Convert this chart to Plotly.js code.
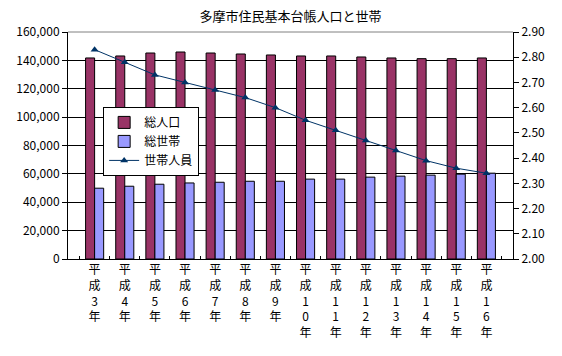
<!DOCTYPE html>
<html>
<head>
<meta charset="utf-8">
<script src="https://cdn.plot.ly/plotly-3.0.1.min.js"></script>
<style>body{margin:0;background:#fff}#chart{width:562px;height:356px}</style>
</head>
<body>
<div id="chart"></div>
<script>
const years = ["平成3年","平成4年","平成5年","平成6年","平成7年","平成8年","平成9年","平成10年","平成11年","平成12年","平成13年","平成14年","平成15年","平成16年"];
const population = [141700,143100,145200,145900,145200,144500,143800,143100,143100,142400,141700,141200,141200,141700];
const households = [49900,51300,52700,53600,54100,54800,54800,56300,56300,57700,58400,59100,59800,60500];
const perHousehold = [2.83,2.78,2.73,2.70,2.67,2.64,2.60,2.55,2.51,2.47,2.43,2.39,2.36,2.34];
const leftTicks = [0,20000,40000,60000,80000,100000,120000,140000,160000];
const rightTicks = [2.0,2.1,2.2,2.3,2.4,2.5,2.6,2.7,2.8,2.9];

const tickText = years.map(s => s.split("").join("<br>"));
const font = "'Noto Sans CJK JP', 'Noto Sans', sans-serif";

const traces = [
  {type:"bar", name:"総人口", x:years, y:population, marker:{color:"#993366", line:{color:"#000", width:1}}},
  {type:"bar", name:"総世帯", x:years, y:households, marker:{color:"#9999FF", line:{color:"#000", width:1}}},
  {type:"scatter", mode:"lines+markers", name:"世帯人員", x:years, y:perHousehold, yaxis:"y2",
   line:{color:"#003366", width:1}, marker:{symbol:"triangle-up", size:7, color:"#003366"}}
];

const layout = {
  width:562, height:356,
  margin:{l:68, r:49, t:32, b:97},
  paper_bgcolor:"#fff", plot_bgcolor:"#fff",
  font:{family:font, size:12, color:"#000"},
  title:{text:"多摩市住民基本台帳人口と世帯", x:0.5, xref:"paper", y:0.955, yanchor:"middle", font:{size:13, family:font}},
  barmode:"group", bargap:0.4, bargroupgap:0,
  showlegend:true,
  legend:{x:0.079, y:0.67, xanchor:"left", yanchor:"top", bgcolor:"#fff", bordercolor:"#000", borderwidth:1,
          font:{size:12, family:font}, traceorder:"normal", tracegroupgap:0, itemwidth:30},
  xaxis:{type:"category", tickmode:"array", tickvals:years, ticktext:tickText, tickangle:0,
         showline:true, linecolor:"#000", linewidth:1, mirror:false, showgrid:false,
         ticks:"inside", ticklen:3, tickcolor:"#000", tickson:"boundaries", tickfont:{size:12}},
  yaxis:{range:[0,160000], tickvals:leftTicks, ticktext:leftTicks.map(v=>v.toLocaleString("en-US")),
         showline:true, linecolor:"#000", linewidth:1, showgrid:true, gridcolor:"#000", gridwidth:1,
         ticks:"outside", ticklen:5, tickcolor:"#000", tickfont:{size:12}, zeroline:false},
  yaxis2:{range:[2.0,2.9], overlaying:"y", side:"right", tickvals:rightTicks, ticktext:rightTicks.map(v=>v.toFixed(2)),
          showline:true, linecolor:"#000", linewidth:1, showgrid:false,
          ticks:"outside", ticklen:5, tickcolor:"#000", tickfont:{size:12}, zeroline:false},
  shapes:[{type:"line", xref:"paper", yref:"paper", x0:0, x1:1, y0:1, y1:1, line:{color:"#808080", width:1}}]
};

Plotly.newPlot("chart", traces, layout, {displayModeBar:false, staticPlot:true});
</script>
</body>
</html>
